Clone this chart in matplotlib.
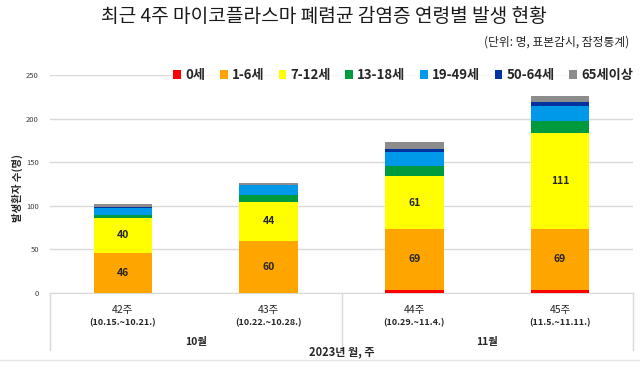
import numpy as np
import matplotlib.pyplot as plt
import matplotlib.transforms as mtransforms

plt.rcParams['font.family'] = ['Noto Sans CJK KR', 'DejaVu Sans']

# data
weeks = ['42주', '43주', '44주', '45주']
periods = ['(10.15.~10.21.)', '(10.22.~10.28.)', '(10.29.~11.4.)', '(11.5.~11.11.)']
months = ['10월', '11월']
month_span = [(0, 1), (2, 3)]
groups = ['0세', '1-6세', '7-12세', '13-18세', '19-49세', '50-64세', '65세이상']
age_0 = [0, 0, 4, 4]
age_1_6 = [46, 60, 69, 69]
age_7_12 = [40, 44, 61, 111]
age_13_18 = [3, 8, 12, 13]
age_19_49 = [8, 12, 16, 18]
age_50_64 = [2, 0, 3, 4]
age_65 = [3, 2, 8, 7]
labeled = ['1-6세', '7-12세']

colors = ['#FF0000', '#FFA500', '#FFFF00', '#009A3E', '#0098E8', '#0033A0', '#8C8C8C']
series = [age_0, age_1_6, age_7_12, age_13_18, age_19_49, age_50_64, age_65]

fig = plt.figure(figsize=(6.4, 3.71), dpi=100)
ax = fig.add_axes([50 / 640, 1 - 293 / 371, 583 / 640, 218 / 371])

x = np.arange(len(weeks))
bottom = np.zeros(len(weeks))
for name, vals, c in zip(groups, series, colors):
    vals = np.array(vals, dtype=float)
    bars = ax.bar(x, vals, 0.4, bottom=bottom, color=c, label=name, zorder=3)
    if name in labeled:
        for b, v in zip(bars, vals):
            ax.text(b.get_x() + b.get_width() / 2, b.get_y() + v / 2, f'{int(v)}',
                    ha='center', va='center', fontsize=7.5, fontweight='bold',
                    color='#262626', zorder=4)
    bottom += vals

ax.set_xlim(-0.5, len(weeks) - 0.5)
ax.set_ylim(0, 250)
ax.set_yticks(range(0, 251, 50))
ax.tick_params(axis='y', length=0, labelsize=5.5, labelcolor='#404040', pad=8)
ax.grid(axis='y', color='#D9D9D9', linewidth=1, zorder=0)
for s in ['left', 'right', 'top']:
    ax.spines[s].set_visible(False)
ax.spines['bottom'].set_color('#D9D9D9')

# week labels
ax.set_xticks(x)
ax.set_xticklabels([])
ax.tick_params(axis='x', length=0)
trans = mtransforms.blended_transform_factory(ax.transData, fig.transFigure)
for i in x:
    ax.text(i, 1 - 310 / 371, weeks[i], transform=trans, ha='center', va='center',
            fontsize=7.5, color='#262626')
    ax.text(i, 1 - 323 / 371, periods[i], transform=trans, ha='center', va='center',
            fontsize=6.5, fontweight='bold', color='#262626')

# month labels and dividers
for m, (a, b) in zip(months, month_span):
    ax.text((a + b) / 2, 1 - 342 / 371, m, transform=trans, ha='center', va='center',
            fontsize=7.5, fontweight='bold', color='#262626')
for d in [-0.5, 1.5, len(weeks) - 0.5]:
    ax.plot([d, d], [1 - 293 / 371, 1 - 350 / 371], transform=trans, color='#D9D9D9',
            linewidth=1, clip_on=False)
ax.text((x[0] + x[-1]) / 2, 1 - 352 / 371, '2023년 월, 주', transform=trans,
        ha='center', va='center', fontsize=8, fontweight='bold', color='#262626')
fig.add_artist(plt.Line2D([0, 1], [1 - 360 / 371, 1 - 360 / 371], color='#E6E6E6', linewidth=1))

ax.set_ylabel('발생환자 수(명)', fontsize=7.5, fontweight='bold', color='#262626')
ax.yaxis.set_label_coords((23 - 50) / 583, (293 - 188) / 218)

fig.text(0.506, 1 - 16 / 371, '최근 4주 마이코플라스마 폐렴균 감염증 연령별 발생 현황',
         ha='center', va='center', fontsize=13.8, color='#1a1a1a')
fig.text(629 / 640, 1 - 42 / 371, '(단위: 명, 표본감시, 잠정통계)',
         ha='right', va='center', fontsize=8.5, color='#262626')

leg = fig.legend(loc='center right', bbox_to_anchor=(642 / 640, 1 - 75 / 371), ncol=7,
                 frameon=True, facecolor='white', edgecolor='none', fancybox=False,
                 handlelength=0.6, handleheight=0.6, handletextpad=0.3, columnspacing=1.1,
                 borderpad=0.2, prop={'size': 9.5, 'weight': 'bold'})
for t in leg.get_texts():
    t.set_color('#262626')

fig.savefig('out.png', dpi=100)
